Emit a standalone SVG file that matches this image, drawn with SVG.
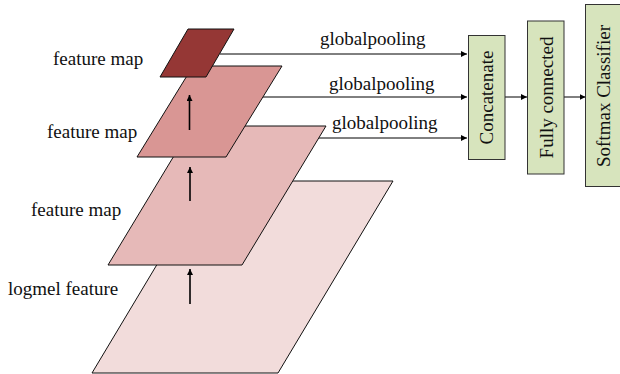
<svg xmlns="http://www.w3.org/2000/svg" width="620" height="374" viewBox="0 0 620 374">
<defs>
<marker id="ah" viewBox="0 0 10 10" refX="10" refY="5" markerWidth="6" markerHeight="6" markerUnits="userSpaceOnUse" orient="auto">
<path d="M0,0 L10,5 L0,10 z" fill="#000"/>
</marker>
<marker id="au" viewBox="0 0 10 10" refX="10" refY="5" markerWidth="7" markerHeight="6" markerUnits="userSpaceOnUse" orient="auto">
<path d="M0,0 L10,5 L0,10 z" fill="#000"/>
</marker>
</defs>
<style>
.lbl{font-size:19px;fill:#111}
.layer{stroke:#111;stroke-width:1}
.box{fill:#D7E4BD;stroke:#333;stroke-width:1}
.con{stroke:#000;stroke-width:1;fill:none;marker-end:url(#ah)}
.up{stroke:#000;stroke-width:1.6;fill:none;marker-end:url(#au)}
</style>
<rect width="620" height="374" fill="#fff"/>
<g id="connectors">
<line class="con" x1="220" y1="54" x2="467" y2="54"/>
<line class="con" x1="262" y1="97" x2="467" y2="97"/>
<line class="con" x1="318" y1="138" x2="467" y2="138"/>
<line class="con" x1="505" y1="97" x2="527" y2="97"/>
<line class="con" x1="564" y1="97" x2="585.5" y2="97"/>
</g>
<g font-family="Liberation Serif, Times New Roman, serif">
<g id="logmel">
<polygon class="layer" points="92,373 278,373 393,181 207,181" fill="#F2DCDB"/>
<text class="lbl" x="8" y="295">logmel feature</text>
</g>
<g id="fmap3">
<polygon class="layer" points="108,265 242,265 326,126 192,126" fill="#E6B9B8"/>
<text class="lbl" x="31" y="216">feature map</text>
</g>
<g id="fmap2">
<polygon class="layer" points="137,157 226,157 282,66 193,66" fill="#D99694"/>
<text class="lbl" x="47" y="138">feature map</text>
</g>
<g id="fmap1">
<polygon class="layer" points="160,77 206,77 234,29 188,29" fill="#953735"/>
<text class="lbl" x="53" y="65">feature map</text>
</g>
<g id="uparrows">
<line class="up" x1="190" y1="304" x2="190" y2="269"/>
<line class="up" x1="190" y1="201" x2="190" y2="167"/>
<line class="up" x1="189.5" y1="130" x2="189.5" y2="95"/>
</g>
<g id="pool-labels">
<text class="lbl" x="320" y="45">globalpooling</text>
<text class="lbl" x="329" y="90">globalpooling</text>
<text class="lbl" x="332" y="129">globalpooling</text>
</g>
<g id="concat">
<rect class="box" x="468.5" y="35.5" width="36.5" height="124"/>
<text class="lbl" transform="translate(486.5,97.5) rotate(-90)" y="6.5" text-anchor="middle">Concatenate</text>
</g>
<g id="fc">
<rect class="box" x="527.5" y="21" width="36.5" height="153"/>
<text class="lbl" transform="translate(546,97.5) rotate(-90)" y="6.5" text-anchor="middle">Fully connected</text>
</g>
<g id="softmax">
<rect class="box" x="585.5" y="4.5" width="36" height="182"/>
<text class="lbl" transform="translate(603.5,96) rotate(-90)" y="6.5" text-anchor="middle">Softmax Classifier</text>
</g>
</g>
</svg>
